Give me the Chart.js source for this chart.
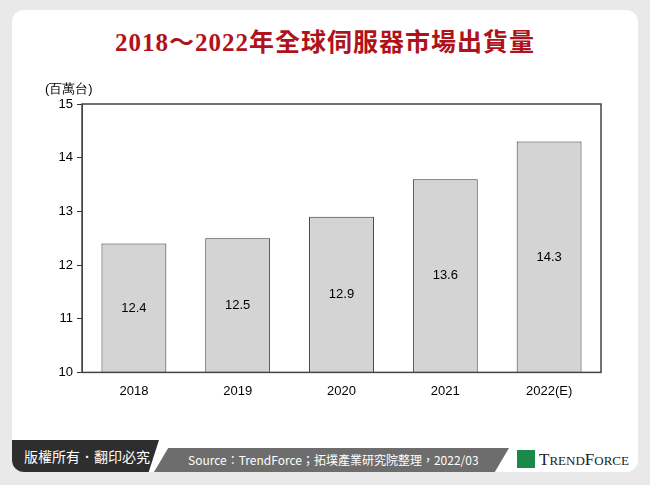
<!DOCTYPE html>
<html><head><meta charset="utf-8">
<script src="https://cdn.jsdelivr.net/npm/chart.js"></script>
<style>
body{margin:0;width:650px;height:485px;background:#e9e9e9;font-family:"Liberation Sans",Arial,sans-serif;position:relative;overflow:hidden}
#card{position:absolute;left:12px;top:10px;width:626px;height:462px;background:#fff;border-radius:12px}
#title{position:absolute;left:0;top:22px;width:650px;text-align:center;color:#b0121b;font:bold 25px "Liberation Serif","Noto Sans CJK TC",serif;letter-spacing:1px}
#wrap{position:absolute;left:30px;top:80px;width:600px;height:322px}
#foot{position:absolute;left:12px;top:440px;width:626px;height:32px}
#cr{position:absolute;left:0;top:0;width:135px;height:32px;background:#2e2e2e;color:#fff;font:14px "Noto Sans CJK TC";line-height:32px;padding-left:12px;border-bottom-left-radius:12px;clip-path:polygon(0 0,100% 0,93% 100%,0 100%)}
#src{position:absolute;left:142px;top:8px;width:355px;height:24px;background:#6d6d6d;color:#fff;font:12px "Noto Sans CJK TC";line-height:24px;padding-left:34px;clip-path:polygon(4% 0,100% 0,96% 100%,0 100%);box-sizing:border-box;white-space:nowrap}
#logo{position:absolute;left:505px;top:10px;font:17px "Liberation Serif",serif;color:#222}
#logo b{display:inline-block;width:18px;height:18px;background:#1a8a4a;vertical-align:-3px;margin-right:4px}
</style></head><body>
<div id="card"></div>
<div id="title">2018～2022年全球伺服器市場出貨量</div>
<div id="wrap"><canvas id="c"></canvas></div>
<div id="foot"><div id="cr">版權所有．翻印必究</div><div id="src">Source：TrendForce；拓墣產業研究院整理，2022/03</div><div id="logo"><b></b>T<span style="font-size:13px">REND</span>F<span style="font-size:13px">ORCE</span></div></div>
<script>
const categories=["2018","2019","2020","2021","2022(E)"];
const values=[12.4,12.5,12.9,13.6,14.3];
const yTicks=[10,11,12,13,14,15];
const labelPlugin={id:'lbl',afterDatasetsDraw(ch){const ctx=ch.ctx;const m=ch.getDatasetMeta(0);ctx.save();ctx.fillStyle='#000';ctx.font='13px "Liberation Sans"';ctx.textAlign='center';ctx.textBaseline='middle';
m.data.forEach((b,i)=>{const y0=ch.scales.y.getPixelForValue(10);ctx.fillText(values[i].toFixed(1),b.x,(b.y+y0)/2);});
ctx.textAlign='left';ctx.fillText('(百萬台)',15,9);ctx.restore();}};
const borderPlugin={id:'bd',afterDraw(ch){const a=ch.chartArea,ctx=ch.ctx;ctx.save();ctx.strokeStyle='#444';ctx.lineWidth=1.5;ctx.strokeRect(a.left,a.top,a.right-a.left,a.bottom-a.top);ctx.restore();}};
new Chart(document.getElementById('c'),{type:'bar',
data:{labels:categories,datasets:[{data:values,backgroundColor:'#d4d4d4',borderColor:'#333',borderWidth:1,barPercentage:0.625,categoryPercentage:1,base:10}]},
options:{responsive:true,maintainAspectRatio:false,animation:false,
layout:{padding:{top:24,right:29,left:0,bottom:0}},
plugins:{legend:{display:false},tooltip:{enabled:false}},
scales:{
x:{grid:{display:false},border:{display:false},ticks:{color:'#000',font:{size:13,family:'Liberation Sans'}}},
y:{min:10,max:15,afterFit(s){s.width=52},afterBuildTicks(s){s.ticks=yTicks.map(v=>({value:v}))},
grid:{drawOnChartArea:false,drawTicks:true,tickLength:5,color:'#333'},border:{color:'#444'},
ticks:{color:'#000',font:{size:13,family:'Liberation Sans'},padding:4}}}},
plugins:[labelPlugin,borderPlugin]});
</script></body></html>
